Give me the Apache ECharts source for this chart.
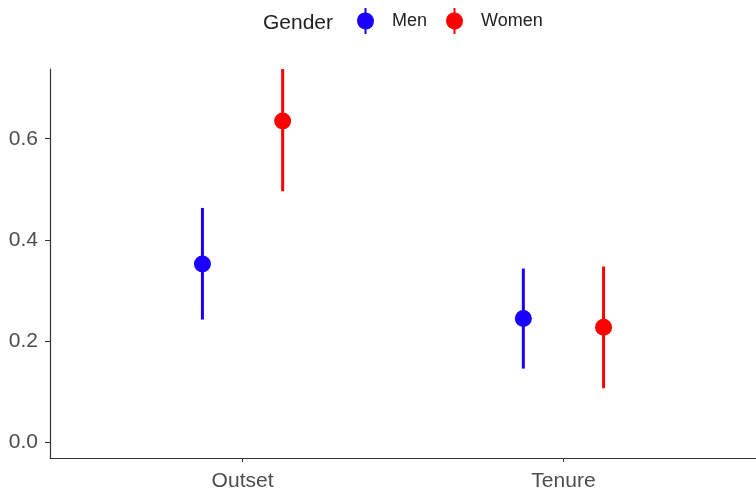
<!DOCTYPE html>
<html>
<head>
<meta charset="utf-8">
<script src="https://cdn.jsdelivr.net/npm/echarts@6/dist/echarts.min.js"></script>
<style>
  html, body { margin: 0; padding: 0; background: #fff; }
  #chart { width: 756px; height: 495px; }
</style>
</head>
<body>
<div id="chart"></div>
<script>
// 数据
var categories = ['Outset', 'Tenure'];
var groups = ['Men', 'Women'];
var colors = ['#1a00ff', '#ff0000'];
var estMen = [0.352, 0.244];
var lowMen = [0.242, 0.145];
var highMen = [0.463, 0.343];
var estWomen = [0.635, 0.227];
var lowWomen = [0.496, 0.106];
var highWomen = [0.745, 0.347];
var yTicks = [0, 0.2, 0.4, 0.6];
var dodge = 0.125;

var myChart = echarts.init(document.getElementById('chart'));

function build(idx, est, low, high) {
    var off = idx === 0 ? -dodge : dodge;
    var pts = [], bars = [];
    for (var i = 0; i < categories.length; i++) {
        pts.push([i + 1 + off, est[i]]);
        bars.push([i + 1 + off, low[i], high[i]]);
    }
    return { pts: pts, bars: bars };
}
var men = build(0, estMen, lowMen, highMen);
var women = build(1, estWomen, lowWomen, highWomen);

// 误差线
function errBar(color) {
    return function (params, api) {
        var a = api.coord([api.value(0), api.value(1)]);
        var b = api.coord([api.value(0), api.value(2)]);
        return {
            type: 'line',
            shape: { x1: a[0], y1: a[1], x2: b[0], y2: b[1] },
            style: { stroke: color, lineWidth: 3 }
        };
    };
}

// 图例图标: 竖线 + 圆点
var icon = 'path://M7.5,0 L9.5,0 L9.5,4.56 A8.5,8.5 0 0,1 9.5,21.44 L9.5,26 L7.5,26 L7.5,21.44 A8.5,8.5 0 0,1 7.5,4.56 Z';

var option = {
    animation: false,
    title: {
        text: 'Gender',
        left: 258,
        top: 8,
        textStyle: { fontFamily: 'Liberation Sans', fontSize: 21, fontWeight: 'normal', color: '#222' }
    },
    legend: {
        left: 352,
        top: 3,
        itemWidth: 17,
        itemHeight: 26,
        itemGap: 19,
        data: [
            { name: 'Men', icon: icon, itemStyle: { color: colors[0] } },
            { name: 'Women', icon: icon, itemStyle: { color: colors[1] } }
        ],
        textStyle: { fontFamily: 'Liberation Sans', fontSize: 18, color: '#222', padding: [5, 0, 0, 13] }
    },
    grid: { left: 50, right: -5, top: 69, bottom: 37 },
    xAxis: {
        type: 'value',
        min: 0.4,
        max: 2.6,
        splitLine: { show: false },
        axisLine: { onZero: false, lineStyle: { color: '#333', width: 1.2 } },
        axisTick: { customValues: [1, 2], length: 4, lineStyle: { color: '#333' } },
        axisLabel: {
            customValues: [1, 2],
            formatter: function (v) { return categories[Math.round(v) - 1]; },
            fontFamily: 'Liberation Sans', fontSize: 21, color: '#4d4d4d', margin: 13
        }
    },
    yAxis: {
        type: 'value',
        min: -0.032,
        max: 0.738,
        splitLine: { show: false },
        axisLine: { show: true, onZero: false, lineStyle: { color: '#333', width: 1.2 } },
        axisTick: { show: true, customValues: yTicks, length: 5, lineStyle: { color: '#333' } },
        axisLabel: {
            customValues: yTicks,
            formatter: function (v) { return v.toFixed(1); },
            fontFamily: 'Liberation Sans', fontSize: 21, color: '#4d4d4d', margin: 12
        }
    },
    series: [
        {
            name: 'Men', type: 'custom', renderItem: errBar(colors[0]),
            data: men.bars, encode: { x: 0, y: [1, 2] }, clip: true, z: 2
        },
        {
            name: 'Women', type: 'custom', renderItem: errBar(colors[1]),
            data: women.bars, encode: { x: 0, y: [1, 2] }, clip: true, z: 2
        },
        {
            name: 'Men', type: 'scatter', symbolSize: 17,
            itemStyle: { color: colors[0], opacity: 1 }, data: men.pts, z: 3
        },
        {
            name: 'Women', type: 'scatter', symbolSize: 17,
            itemStyle: { color: colors[1], opacity: 1 }, data: women.pts, z: 3
        }
    ]
};
myChart.setOption(option);
</script>
</body>
</html>
